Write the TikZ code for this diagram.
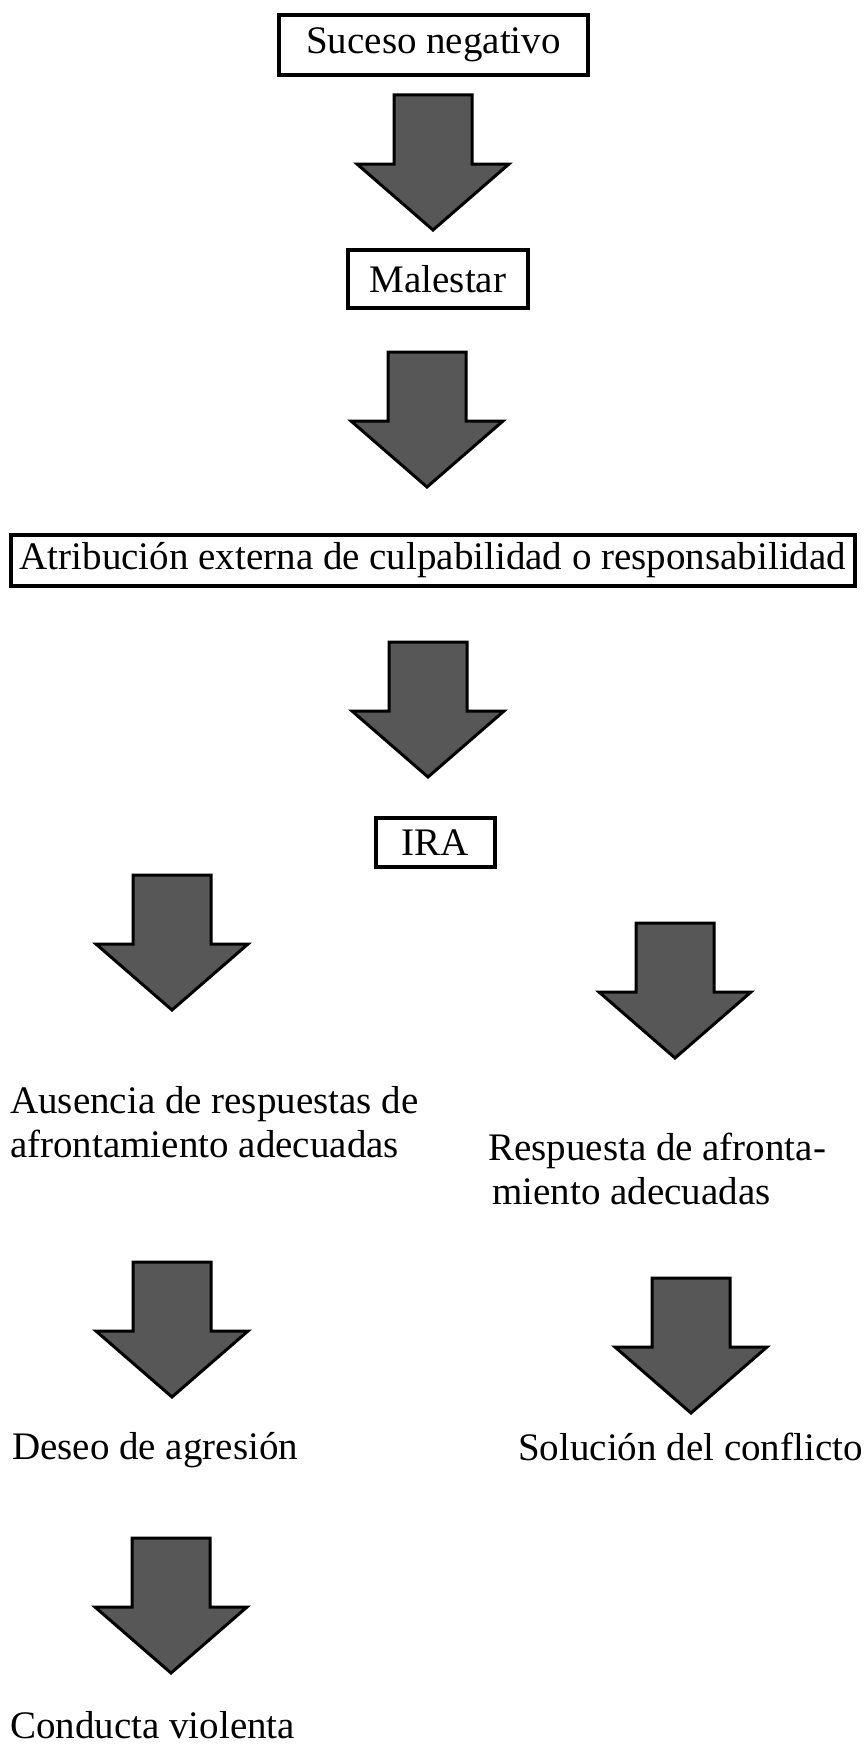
\documentclass[tikz,border=0pt]{standalone}
\usepackage{fontspec}
\setmainfont{Liberation Serif}
\usetikzlibrary{positioning}
\newcommand{\bodyfont}{\fontsize{39}{44}\selectfont}
\tikzset{
    box/.style={rectangle, draw, line width=3.5pt, inner sep=0pt, font=\bodyfont},
    txt/.style={inner sep=0pt, font=\bodyfont, align=left},
    arrowfill/.style={fill=black!66, draw=black, line width=3pt, line join=miter},
    bigarrow/.pic={
        \draw[arrowfill] (-39,0) -- (39,0) -- (39,69) -- (76,69) -- (0,135) -- (-76,69) -- (-39,69) -- cycle;
    }
}

\begin{document}
\begin{tikzpicture}[x=1pt, y=-1pt]
    \useasboundingbox (0,0) rectangle (866,1750);
    % main chain
    \node[box, minimum width=309pt, minimum height=60pt] (suceso) at (433.5,45) {Suceso negativo};
    \node[box, minimum width=180pt, minimum height=58pt] (malestar) at (438,279) {Malestar};
    \node[box, minimum width=844pt, minimum height=51pt] (atrib) at (433,560.5) {Atribución externa de culpabilidad o responsabilidad};
    \node[box, minimum width=119pt, minimum height=49pt] (ira) at (435.5,842.5) {IRA};
    \pic (flecha1) at (433,95) {bigarrow};
    \pic (flecha2) at (427,352) {bigarrow};
    \pic (flecha3) at (428,642) {bigarrow};
    % two branches (base = last line)
    \pic (flecha4) at (172,875) {bigarrow};
    \pic (flecha5) at (675,923) {bigarrow};
    \node[txt, anchor=base west] (ausencia) at (10,1157) {Ausencia de respuestas de\\afrontamiento adecuadas};
    \node[txt, anchor=base west] (respuesta) at (488,1204) {Respuesta de afronta-\\\hspace*{4pt}miento adecuadas};
    \pic (flecha6) at (172,1262) {bigarrow};
    \pic (flecha7) at (691,1278) {bigarrow};
    \node[txt, anchor=base west] (deseo) at (12,1459) {Deseo de agresión};
    \node[txt, anchor=base west] (solucion) at (518,1460) {Solución del conflicto};
    \pic (flecha8) at (171,1538) {bigarrow};
    \node[txt, anchor=base west] (conducta) at (10,1738) {Conducta violenta};
\end{tikzpicture}
\end{document}
